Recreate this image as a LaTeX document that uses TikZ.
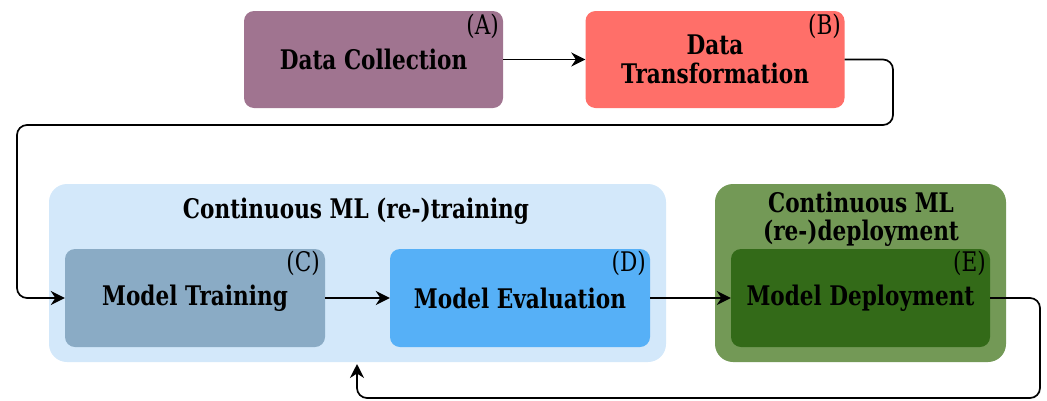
\documentclass[tikz,border=0pt]{standalone}
\usepackage{fontspec}
\setmainfont[FakeStretch=0.8]{DejaVu Serif}
\usetikzlibrary{arrows.meta}
\definecolor{cA}{HTML}{A07490}
\definecolor{cB}{HTML}{FF6F69}
\definecolor{cC}{HTML}{8AABC5}
\definecolor{cD}{HTML}{56B0F7}
\definecolor{cE}{HTML}{336A18}
\definecolor{cTrain}{HTML}{D3E8FA}
\definecolor{cDep}{HTML}{739956}
\tikzset{
  box/.style={rounded corners=10pt, inner sep=0pt, minimum width=259pt, minimum height=97pt, font=\fontsize{27}{29}\selectfont\bfseries, align=center},
  tag/.style={font=\fontsize{27}{29}\selectfont, anchor=north east, inner sep=0pt},
  ttl/.style={font=\fontsize{27}{30}\selectfont\bfseries, align=center, inner sep=0pt},
  conn/.style={line width=1.7pt, -{Stealth[length=14pt,width=14pt]}, rounded corners=10pt},
}
\begin{document}
\begin{tikzpicture}[x=1pt,y=-1pt]
\useasboundingbox (0,0) rectangle (1047,400);
% containers
\fill[cTrain, rounded corners=18pt] (49,184) rectangle (666,362);
\node[ttl] (ttrain) at (356,211) {Continuous ML (re-)training};
\fill[cDep, rounded corners=18pt] (715,184) rectangle (1006,362);
\node[ttl] (tdep) at (861,219) {Continuous ML\\[-2pt](re-)deployment};
\coordinate (contbot) at (357,364);
% boxes
\node[box, fill=cA] (A) at (373.5,59.5) {Data Collection};
\node[box, fill=cB] (B) at (715,59.5) {Data\\Transformation};
\node[box, fill=cC, minimum width=260pt, minimum height=98pt] (C) at (195,298) {Model Training};
\node[box, fill=cD, minimum width=260pt, minimum height=98pt] (D) at (520,298) {Model Evaluation};
\node[box, fill=cE, minimum width=259pt, minimum height=98pt] (E) at (860.5,298) {Model Deployment};
% tags
\node[tag] (tA) at (499,14) {(A)};
\node[tag] (tB) at (841,14) {(B)};
\node[tag] (tC) at (320,251) {(C)};
\node[tag] (tD) at (646,251) {(D)};
\node[tag] (tE) at (986,251) {(E)};
% connectors
\draw[conn] (A.east) -- (B.west);
\draw[conn] (B.east) -- (893,59.5) -- (893,125) -- (17,125) -- (17,298) -- (C.west);
\draw[conn] (C.east) -- (D.west);
\draw[conn] (D.east) -- (E.west);
\draw[conn] (E.east) -- (1040,298) -- (1040,398) -- (357,398) -- (contbot);
\end{tikzpicture}
\end{document}
